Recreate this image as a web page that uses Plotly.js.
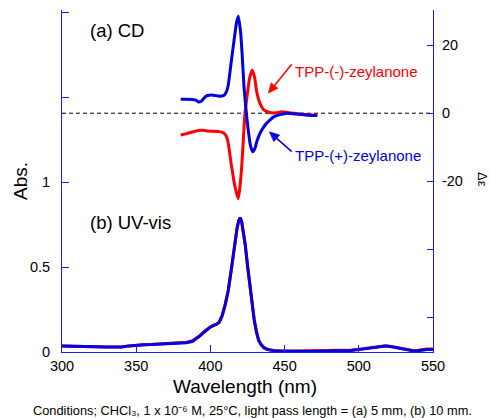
<!DOCTYPE html>
<html>
<head>
<meta charset="utf-8">
<script src="https://cdn.plot.ly/plotly-3.0.1.min.js"></script>
<style>
html,body{margin:0;padding:0;background:#fff;}
#chart{width:491px;height:418px;}
</style>
</head>
<body>
<div id="chart"></div>
<script>
// ---- data ----
const cdWavelengthPlus = [380,384,388,390,392,394,396,398,402,406,409,411,412,414.3,416.1,417.7,418.8,420.3,421.3,422.6,423.8,424.6,425.8,427,428.5,430,431.5,433.5,436,438,440,443,447,452,457,462,467,472];
const cdPlus =           [4.1,4.1,4.0,3.9,3.3,3.6,4.6,5.2,5.3,5.0,5.2,6.5,8.2,16,21.9,26.8,28.5,24,18,8,2,-1.5,-6,-9.5,-11.3,-10.3,-8,-5.8,-4,-2.9,-2,-1,-0.4,0,-0.2,-0.4,-0.6,-0.7];

const cdWavelengthMinus = [380,384,388,392,395,398,402,406,409,411,412,414.3,416.6,418.7,419.9,421.1,422.2,423.3,424.2,425.1,426.5,428.2,429.8,431.2,433.4,436,440,444,448,452,456,460,464,468,472];
const cdMinus =           [-6.4,-6.0,-5.5,-5.1,-5.0,-5.2,-5.3,-5.4,-5.8,-7.0,-8.8,-15.7,-21.6,-25.1,-21.6,-15.7,-7.8,0,3.2,6.3,10.5,12.6,10.5,6.3,2.9,1,0.2,0.1,0.4,0.2,0,-0.2,-0.4,-0.5,-0.6];

const uvWavelength = [300,305,310,315,320,325,330,335,340,345,350,355,360,365,370,375,380,384,388,391,393,395.5,398,400,402,404,406,408,410,412,414,416,418,419,420,421,422,423.5,425,426.5,428,429.5,431,432.5,434,436,438,440,443,446,450,460,470,480,490,495,500,505,510,514,518,522,526,530,534,537,540,543,546,550];
const uvPlus =       [0.035,0.034,0.031,0.028,0.027,0.028,0.029,0.029,0.030,0.036,0.041,0.043,0.044,0.046,0.048,0.050,0.052,0.055,0.063,0.080,0.095,0.115,0.135,0.146,0.155,0.162,0.175,0.215,0.28,0.36,0.48,0.62,0.73,0.77,0.79,0.77,0.72,0.63,0.51,0.39,0.28,0.19,0.12,0.07,0.045,0.025,0.016,0.011,0.008,0.006,0.005,0.005,0.005,0.006,0.007,0.009,0.014,0.020,0.028,0.034,0.035,0.031,0.024,0.016,0.009,0.006,0.007,0.011,0.015,0.015];
const uvMinus =      [0.035,0.034,0.031,0.028,0.027,0.028,0.029,0.029,0.030,0.036,0.041,0.043,0.044,0.046,0.048,0.050,0.053,0.057,0.066,0.083,0.098,0.118,0.137,0.148,0.157,0.164,0.177,0.217,0.28,0.36,0.48,0.62,0.73,0.77,0.79,0.77,0.72,0.63,0.51,0.39,0.28,0.19,0.12,0.07,0.046,0.027,0.018,0.012,0.009,0.007,0.006,0.006,0.007,0.010,0.011,0.012,0.016,0.022,0.030,0.036,0.037,0.033,0.026,0.018,0.010,0.008,0.010,0.014,0.017,0.017];

const xTickVals = [300,350,400,450,500,550];
const absTickVals = [0,0.5,1];
const absTickText = ['0','0.5','1'];
const absMinorTickVals = [1.5,2];
const deTickVals = [-20,0,20];
const deTickText = ['-20','0','20'];
const deMinorTickVals = [-60,-40];

// ---- styling ----
const RED = '#ff0000';
const BLUE = '#0000e0';
const AXIS = '#1a1aff';
const FONT = 'Liberation Sans, Arial, Helvetica, sans-serif';

const traces = [
  {x: uvWavelength, y: uvMinus, type:'scatter', mode:'lines', line:{color:RED, width:3}, xaxis:'x', yaxis:'y', hoverinfo:'skip'},
  {x: uvWavelength, y: uvPlus, type:'scatter', mode:'lines', line:{color:BLUE, width:3}, xaxis:'x', yaxis:'y', hoverinfo:'skip'},
  {x: cdWavelengthMinus, y: cdMinus, type:'scatter', mode:'lines', line:{color:RED, width:3, shape:'spline', smoothing:0.6}, xaxis:'x', yaxis:'y2', hoverinfo:'skip'},
  {x: cdWavelengthPlus, y: cdPlus, type:'scatter', mode:'lines', line:{color:BLUE, width:3, shape:'spline', smoothing:0.6}, xaxis:'x', yaxis:'y2', hoverinfo:'skip'}
];

// arrow built from shapes: tip anchored at (xData, yPaper), tail offset in pixels (dx right, dy up)
function arrowShapes(xData, yPaper, dx, dy, color){
  const len = Math.hypot(dx, dy);
  const ux = -dx/len, uy = -dy/len;         // direction tail -> tip
  const hl = 10, hw = 4.5;
  const bx = -ux*hl, by = -uy*hl;           // base centre of head
  const px = -uy, py = ux;                  // perpendicular
  const c1x = bx + px*hw, c1y = by + py*hw;
  const c2x = bx - px*hw, c2y = by - py*hw;
  const common = {xref:'x', yref:'paper', xsizemode:'pixel', ysizemode:'pixel', xanchor:xData, yanchor:yPaper};
  return [
    Object.assign({type:'line', x0:dx, y0:dy, x1:bx, y1:by, line:{color:color, width:1.5}}, common),
    Object.assign({type:'path', path:`M0,0 L${c1x.toFixed(2)},${c1y.toFixed(2)} L${c2x.toFixed(2)},${c2y.toFixed(2)} Z`, fillcolor:color, line:{color:color, width:0.5}}, common)
  ];
}

const tickFont = {family:FONT, size:14.5, color:'#000'};

const layout = {
  width:491, height:418,
  margin:{l:62, r:58, t:10, b:66},
  paper_bgcolor:'#fff', plot_bgcolor:'#fff',
  showlegend:false,
  font:{family:FONT, color:'#000'},
  xaxis:{
    range:[300,550], showgrid:false, zeroline:false,
    showline:true, linecolor:AXIS, linewidth:1,
    ticks:'inside', ticklen:7, tickcolor:AXIS, tickwidth:1,
    tickmode:'array', tickvals:xTickVals, tickfont:tickFont, ticklabelstandoff:1
  },
  yaxis:{
    range:[0,2.012], showgrid:false, zeroline:false,
    showline:true, linecolor:AXIS, linewidth:1,
    ticks:'inside', ticklen:7, tickcolor:AXIS, tickwidth:1,
    tickmode:'array', tickvals:absTickVals, ticktext:absTickText, tickfont:tickFont, ticklabelstandoff:8,
    minor:{tickmode:'array', tickvals:absMinorTickVals, ticks:'inside', ticklen:7, tickcolor:AXIS, tickwidth:1, showgrid:false}
  },
  yaxis2:{
    range:[-70.1,30.3], overlaying:'y', side:'right', anchor:'x',
    showgrid:false, zeroline:false,
    showline:true, linecolor:AXIS, linewidth:1,
    ticks:'inside', ticklen:6, tickcolor:AXIS, tickwidth:1,
    tickmode:'array', tickvals:deTickVals, ticktext:deTickText, tickfont:tickFont, ticklabelstandoff:5,
    minor:{tickmode:'array', tickvals:deMinorTickVals, ticks:'inside', ticklen:6, tickcolor:AXIS, tickwidth:1, showgrid:false}
  },
  shapes:[
    {type:'line', xref:'paper', x0:0, x1:1, yref:'y2', y0:0, y1:0, line:{color:'#000', width:1, dash:'4px,3px'}, layer:'below'}
  ].concat(arrowShapes(439.0, 0.7564, 23.4, 29, RED))
   .concat(arrowShapes(439.7, 0.6442, 22.4, -20, BLUE)),
  annotations:[
    {text:'(a) CD', xref:'paper', yref:'paper', x:0.0701, y:0.9386, xanchor:'left', yanchor:'middle', showarrow:false, font:{family:FONT, size:18.5, color:'#000'}},
    {text:'(b) UV-vis', xref:'paper', yref:'paper', x:0.0701, y:0.3772, xanchor:'left', yanchor:'middle', showarrow:false, font:{family:FONT, size:18.5, color:'#000'}},
    {text:'TPP-(-)-zeylanone', xref:'paper', yref:'paper', x:0.6235, y:0.8216, xanchor:'left', yanchor:'middle', showarrow:false, font:{family:FONT, size:15, color:RED}},
    {text:'TPP-(+)-zeylanone', xref:'paper', yref:'paper', x:0.6235, y:0.576, xanchor:'left', yanchor:'middle', showarrow:false, font:{family:FONT, size:15, color:BLUE}},
    {text:'Abs.', xref:'paper', yref:'paper', x:-0.1132, y:0.5, xanchor:'center', yanchor:'middle', textangle:-90, showarrow:false, font:{family:FONT, size:19, color:'#000'}},
    {text:'Δε', xref:'paper', yref:'paper', x:1.132, y:0.503, xanchor:'center', yanchor:'middle', textangle:90, showarrow:false, font:{family:FONT, size:13, color:'#000'}},
    {text:'Wavelength (nm)', xref:'paper', yref:'paper', x:0.4946, y:-0.1023, xanchor:'center', yanchor:'middle', showarrow:false, font:{family:FONT, size:19, color:'#000'}},
    {text:'Conditions; CHCl₃, 1 x 10⁻⁶ M, 25°C, light pass length = (a) 5 mm, (b) 10 mm.', xref:'paper', yref:'paper', x:0.5135, y:-0.1696, xanchor:'center', yanchor:'middle', showarrow:false, font:{family:FONT, size:12.8, color:'#000'}}
  ]
};

Plotly.newPlot('chart', traces, layout, {displayModeBar:false, staticPlot:true});
</script>
</body>
</html>
